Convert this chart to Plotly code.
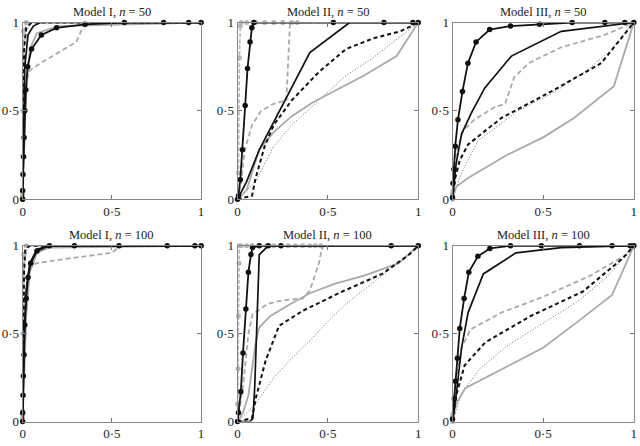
import plotly.graph_objects as go

# ---- data: (fpr, tpr) per panel and per curve ----
# Model I, n = 50
I50_blk_o = ([0, 0, 0.002, 0.005, 0.008, 0.012, 0.018, 0.028, 0.05, 0.105, 0.19, 0.35, 0.57, 0.79, 0.93, 1],
             [0, 0.05, 0.14, 0.24, 0.35, 0.5, 0.62, 0.75, 0.85, 0.93, 0.97, 0.99, 1, 1, 1, 1])
I50_blk = ([0, 0.005, 0.012, 0.03, 0.06, 0.1, 1], [0, 0.45, 0.75, 0.93, 0.98, 1, 1])
I50_blk_dash = ([0, 0.003, 0.008, 0.02, 0.05, 1], [0, 0.5, 0.85, 0.97, 1, 1])
I50_blk_dot = ([0, 0.004, 0.012, 0.04, 1], [0, 0.6, 0.92, 1, 1])
I50_gry = ([0, 0.01, 0.02, 0.04, 0.08, 0.2, 1], [0, 0.35, 0.62, 0.85, 0.94, 0.98, 1])
I50_gry_dash = ([0, 0.01, 0.025, 0.04, 0.1, 0.2, 0.3, 0.345, 0.4, 1],
                [0, 0.45, 0.68, 0.73, 0.77, 0.83, 0.89, 0.99, 1, 1])
I50_gry_o = ([0, 0, 0, 0, 0.002, 0.005, 0.02, 1], [0, 0.015, 0.03, 0.045, 0.5, 0.95, 1, 1])

# Model II, n = 50
II50_blk_o = ([0, 0.005, 0.015, 0.027, 0.042, 0.055, 0.069, 0.079, 0.09, 0.53, 0.81, 0.97, 1],
              [0, 0.02, 0.11, 0.28, 0.53, 0.74, 0.89, 0.97, 1, 1, 1, 1, 1])
II50_blk = ([0, 0.05, 0.12, 0.27, 0.40, 0.62, 1], [0, 0.1, 0.28, 0.57, 0.83, 1, 1])
II50_blk_dash = ([0, 0.08, 0.1, 0.15, 0.2, 0.3, 0.45, 0.6, 0.75, 0.9, 1],
                 [0, 0.02, 0.12, 0.3, 0.42, 0.56, 0.72, 0.85, 0.91, 0.95, 1])
II50_blk_dot = ([0, 0.1, 0.2, 0.3, 0.45, 0.6, 0.75, 0.9, 1], [0, 0.1, 0.3, 0.42, 0.56, 0.7, 0.8, 0.92, 1])
II50_gry = ([0, 0.05, 0.08, 0.12, 0.2, 0.3, 0.42, 0.55, 0.7, 0.88, 1],
            [0, 0.05, 0.15, 0.28, 0.38, 0.47, 0.55, 0.62, 0.7, 0.81, 1])
II50_gry_dash = ([0, 0.02, 0.04, 0.08, 0.13, 0.2, 0.27, 0.29, 1], [0, 0.1, 0.28, 0.42, 0.5, 0.54, 0.56, 1, 1])
II50_gry_o = ([0, 0.005, 0.01, 0.015, 0.02, 0.05, 0.1, 0.15, 0.2, 0.25, 0.3, 0.33, 1],
              [0, 0.15, 0.8, 0.98, 1, 1, 1, 1, 1, 1, 1, 1, 1])

# Model III, n = 50
III50_blk_o = ([0, 0.003, 0.008, 0.015, 0.03, 0.055, 0.085, 0.13, 0.205, 0.32, 0.48, 0.66, 0.84, 0.95, 1],
               [0.01, 0.09, 0.17, 0.3, 0.45, 0.61, 0.77, 0.89, 0.96, 0.98, 0.99, 1, 1, 1, 1])
III50_blk = ([0, 0.02, 0.05, 0.105, 0.178, 0.325, 0.6, 0.84, 1], [0, 0.2, 0.37, 0.49, 0.63, 0.81, 0.95, 0.98, 1])
III50_blk_dash = ([0, 0.01, 0.04, 0.086, 0.27, 0.545, 0.82, 1], [0, 0.1, 0.22, 0.31, 0.46, 0.61, 0.77, 1])
III50_blk_dot = ([0, 0.05, 0.14, 0.36, 0.55, 0.73, 0.87, 1], [0, 0.15, 0.33, 0.5, 0.6, 0.72, 0.84, 1])
III50_gry = ([0, 0.02, 0.086, 0.3, 0.5, 0.67, 0.89, 1], [0, 0.07, 0.12, 0.25, 0.35, 0.46, 0.64, 1])
III50_gry_dash = ([0, 0.013, 0.03, 0.06, 0.12, 0.23, 0.29, 0.34, 0.42, 0.6, 0.84, 1],
                  [0.05, 0.22, 0.3, 0.39, 0.45, 0.52, 0.54, 0.69, 0.77, 0.86, 0.93, 1])
III50_gry_o = ([0, 0, 0, 0.003, None, 1], [0, 0.015, 0.03, 0.045, None, 1])

# Model I, n = 100
I100_blk_o = ([0, 0, 0.002, 0.004, 0.008, 0.012, 0.02, 0.03, 0.045, 0.08, 0.15, 0.29, 0.54, 0.81, 0.965, 1],
              [0, 0.05, 0.15, 0.26, 0.38, 0.55, 0.7, 0.82, 0.9, 0.97, 1, 1, 1, 1, 1, 1])
I100_blk = ([0, 0.01, 0.02, 0.04, 0.08, 0.15, 1], [0, 0.5, 0.75, 0.9, 0.98, 1, 1])
I100_blk_dash = ([0, 0.003, 0.008, 0.015, 0.04, 1], [0, 0.5, 0.85, 0.98, 1, 1])
I100_blk_dot = ([0, 0.004, 0.01, 0.03, 1], [0, 0.6, 0.9, 1, 1])
I100_gry = ([0, 0.01, 0.02, 0.04, 0.08, 0.15, 1], [0, 0.3, 0.6, 0.85, 0.96, 0.99, 1])
I100_gry_dash = ([0, 0.01, 0.03, 0.074, 0.2, 0.35, 0.5, 0.535, 0.6, 1],
                 [0, 0.6, 0.86, 0.9, 0.92, 0.94, 0.96, 0.99, 1, 1])
I100_gry_o = ([0, 0, 0, 0, 0.003, 0.006, 0.02, 1], [0, 0.02, 0.04, 0.06, 0.5, 0.95, 1, 1])

# Model II, n = 100
II100_blk_o = ([0, 0.005, 0.018, 0.03, 0.046, 0.06, 0.074, 0.083, 0.12, 0.17, 0.24, 0.85, 1],
               [0, 0.05, 0.17, 0.39, 0.64, 0.85, 0.95, 0.99, 1, 1, 1, 1, 1])
II100_blk = ([0, 0.07, 0.085, 0.095, 0.105, 0.115, 0.12, 0.17, 1], [0, 0, 0.02, 0.2, 0.5, 0.8, 0.95, 1, 1])
II100_blk_dash = ([0, 0.08, 0.1, 0.156, 0.23, 0.36, 0.58, 0.8, 0.95, 1],
                  [0, 0.02, 0.13, 0.35, 0.545, 0.63, 0.74, 0.84, 0.95, 1])
II100_blk_dot = ([0, 0.1, 0.2, 0.3, 0.4, 0.5, 0.6, 0.7, 0.8, 0.9, 1],
                 [0, 0.1, 0.25, 0.36, 0.46, 0.57, 0.67, 0.75, 0.83, 0.91, 1])
II100_gry = ([0, 0.03, 0.06, 0.08, 0.1, 0.12, 0.18, 0.285, 0.4, 0.54, 0.7, 0.89, 1],
             [0, 0.05, 0.15, 0.3, 0.45, 0.535, 0.6, 0.665, 0.73, 0.785, 0.83, 0.9, 1])
II100_gry_dash = ([0, 0.03, 0.06, 0.083, 0.166, 0.25, 0.36, 0.4, 0.45, 0.466, 0.48, 1],
                  [0, 0.2, 0.5, 0.61, 0.67, 0.69, 0.70, 0.745, 0.9, 0.98, 1, 1])
II100_gry_o = ([0, 0, 0.003, 0.005, 0.008, 0.01, 0.02, 0.05, 0.08, 0.12, 0.16, 0.2, 0.24, 0.28, 0.32, 0.36, 0.4, 0.43, 0.46, 1],
               [0, 0.1, 0.3, 0.6, 0.9, 1, 1, 1, 1, 1, 1, 1, 1, 1, 1, 1, 1, 1, 1, 1])

# Model III, n = 100
III100_blk_o = ([0, 0.01, 0.016, 0.027, 0.04, 0.064, 0.09, 0.14, 0.206, 0.32, 0.49, 0.7, 0.88, 0.98, 1],
                [0.015, 0.13, 0.23, 0.36, 0.53, 0.7, 0.85, 0.94, 0.985, 1, 1, 1, 1, 1, 1])
III100_blk = ([0, 0.02, 0.05, 0.086, 0.17, 0.35, 0.6, 1], [0, 0.15, 0.42, 0.62, 0.84, 0.96, 0.99, 1])
III100_blk_dash = ([0, 0.02, 0.067, 0.18, 0.43, 0.72, 0.94, 1], [0, 0.15, 0.32, 0.45, 0.6, 0.74, 0.93, 1])
III100_blk_dot = ([0, 0.05, 0.15, 0.3, 0.5, 0.7, 0.85, 1], [0, 0.16, 0.3, 0.43, 0.56, 0.69, 0.82, 1])
III100_gry = ([0, 0.02, 0.07, 0.2, 0.35, 0.5, 0.68, 0.88, 1], [0, 0.1, 0.19, 0.26, 0.34, 0.42, 0.56, 0.72, 1])
III100_gry_dash = ([0, 0.02, 0.05, 0.1, 0.27, 0.5, 0.76, 0.96, 1], [0, 0.25, 0.42, 0.525, 0.62, 0.71, 0.83, 0.95, 1])
III100_gry_o = ([0, 0, 0, 0.003, None, 1], [0, 0.015, 0.03, 0.045, None, 1])

titles = ["Model I, <i>n</i> = 50", "Model II, <i>n</i> = 50", "Model III, <i>n</i> = 50",
          "Model I, <i>n</i> = 100", "Model II, <i>n</i> = 100", "Model III, <i>n</i> = 100"]
tick_vals = [0, 0.5, 1]
tick_text = ["0", "0·5", "1"]

panels = [
    [I50_blk_dot, I50_gry, I50_gry_dash, I50_gry_o, I50_blk_dash, I50_blk, I50_blk_o],
    [II50_blk_dot, II50_gry, II50_gry_dash, II50_gry_o, II50_blk_dash, II50_blk, II50_blk_o],
    [III50_blk_dot, III50_gry, III50_gry_dash, III50_gry_o, III50_blk_dash, III50_blk, III50_blk_o],
    [I100_blk_dot, I100_gry, I100_gry_dash, I100_gry_o, I100_blk_dash, I100_blk, I100_blk_o],
    [II100_blk_dot, II100_gry, II100_gry_dash, II100_gry_o, II100_blk_dash, II100_blk, II100_blk_o],
    [III100_blk_dot, III100_gry, III100_gry_dash, III100_gry_o, III100_blk_dash, III100_blk, III100_blk_o],
]

# style per curve, same order as in panels
styles = [
    dict(line=dict(color="#666666", width=1, dash="1px,2px"), mode="lines"),
    dict(line=dict(color="#aaaaaa", width=1.8), mode="lines"),
    dict(line=dict(color="#aaaaaa", width=1.8, dash="5px,3px"), mode="lines"),
    dict(line=dict(color="#b4b4b4", width=1.6, dash="4px,2px"), mode="lines+markers",
         marker=dict(color="#b4b4b4", size=5)),
    dict(line=dict(color="#111111", width=2, dash="4px,3px"), mode="lines"),
    dict(line=dict(color="#111111", width=1.7), mode="lines"),
    dict(line=dict(color="#111111", width=1.8), mode="lines+markers",
         marker=dict(color="#111111", size=5.5)),
]

# axis domains (paper fractions)
x_dom = [(0.031, 0.3125), (0.370, 0.655), (0.709, 0.995)]
y_dom = [(0.554, 0.964), (0.038, 0.446)]

fig = go.Figure()
font = dict(family="Liberation Serif", size=13, color="#222222")

for i, curves in enumerate(panels):
    row, col = divmod(i, 3)
    k = "" if i == 0 else str(i + 1)
    for (xs, ys), st in zip(curves, styles):
        fig.add_trace(go.Scatter(x=xs, y=ys, xaxis="x" + k, yaxis="y" + k,
                                 showlegend=False, cliponaxis=False, hoverinfo="skip", **st))
    ax = dict(range=[0, 1], tickvals=tick_vals, ticktext=tick_text, ticks="inside", ticklen=4,
              tickcolor="#777777", showgrid=False, zeroline=False, showline=True, linecolor="#888888",
              linewidth=1, mirror="ticks", tickfont=font)
    fig.layout["xaxis" + k] = dict(ax, domain=x_dom[col], anchor="y" + k)
    fig.layout["yaxis" + k] = dict(ax, domain=y_dom[row], anchor="x" + k)
    fig.add_annotation(text=titles[i], x=sum(x_dom[col]) / 2, y=y_dom[row][1], xref="paper", yref="paper",
                       xanchor="center", yanchor="bottom", yshift=2, showarrow=False,
                       font=dict(font, size=12.5))

fig.update_layout(width=640, height=446, margin=dict(l=0, r=0, t=0, b=0),
                  paper_bgcolor="white", plot_bgcolor="white", font=font)

fig.write_html("out.html", config={"displayModeBar": False},
               post_script="document.body.style.margin='0';document.body.style.overflow='hidden';")
